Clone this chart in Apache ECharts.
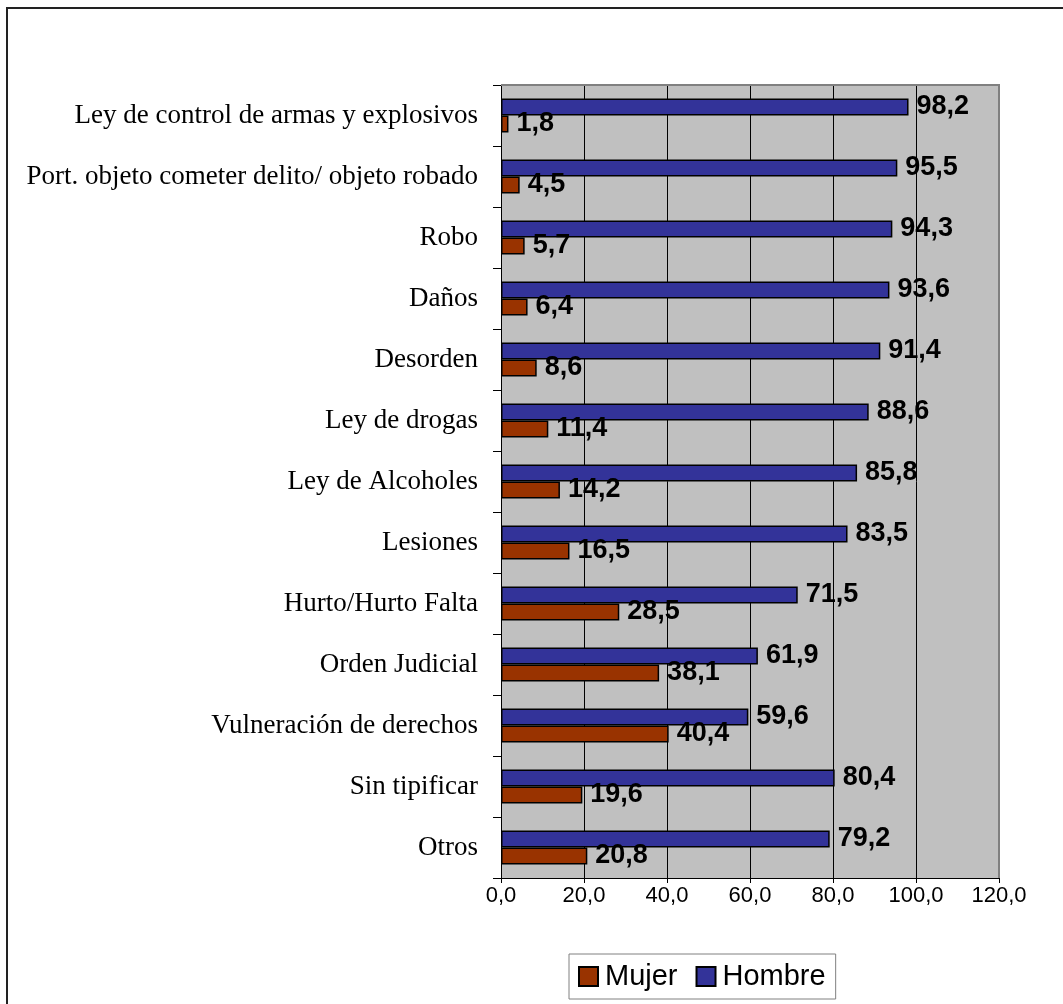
<!DOCTYPE html>
<html>
<head>
<meta charset="utf-8">
<script src="https://cdn.jsdelivr.net/npm/echarts@6/dist/echarts.min.js"></script>
<style>
  html, body { margin: 0; padding: 0; background: #fff; }
  #chart { width: 1063px; height: 1004px; }
</style>
</head>
<body>
<div id="chart"></div>
<script>
// Offence categories, listed from bottom to top of the chart
const categories = [
  'Otros',
  'Sin tipificar',
  'Vulneración de derechos',
  'Orden Judicial',
  'Hurto/Hurto Falta',
  'Lesiones',
  'Ley de Alcoholes',
  'Ley de drogas',
  'Desorden',
  'Daños',
  'Robo',
  'Port. objeto cometer delito/ objeto robado',
  'Ley de control de armas y explosivos'
];
// Percentages by sex, same order as categories
const mujer  = [20.8, 19.6, 40.4, 38.1, 28.5, 16.5, 14.2, 11.4, 8.6, 6.4, 5.7, 4.5, 1.8];
const hombre = [79.2, 80.4, 59.6, 61.9, 71.5, 83.5, 85.8, 88.6, 91.4, 93.6, 94.3, 95.5, 98.2];
const xTicks = [0, 20, 40, 60, 80, 100, 120];

const fmt = v => v.toFixed(1).replace('.', ',');

const chart = echarts.init(document.getElementById('chart'), null, { renderer: 'canvas' });

const valueLabel = {
  show: true,
  position: 'right',
  distance: 8,
  color: '#000',
  fontFamily: 'Liberation Sans, Arial, sans-serif',
  fontWeight: 'bold',
  fontSize: 27,
  formatter: p => fmt(p.value)
};

chart.setOption({
  animation: false,
  backgroundColor: '#fff',
  graphic: [
    {
      type: 'rect',
      shape: { x: 7, y: 8, width: 1070, height: 1010 },
      style: { fill: 'none', stroke: '#222', lineWidth: 2 },
      z: 0
    },
    // plot frame (top and right edges)
    {
      type: 'polyline',
      shape: { points: [[501, 85], [999, 85], [999, 878]] },
      style: { stroke: '#808080', lineWidth: 2, fill: 'none' },
      z: 1
    }
  ],
  legend: {
    bottom: 5,
    left: 569,
    data: ['Mujer', 'Hombre'],
    icon: 'rect',
    itemWidth: 19,
    itemHeight: 19,
    itemGap: 18,
    padding: [8, 10, 8, 9],
    borderColor: '#808080',
    borderWidth: 1,
    backgroundColor: '#fff',
    textStyle: {
      fontFamily: 'Liberation Sans, Arial, sans-serif',
      fontSize: 29,
      color: '#000',
      padding: [0, 0, 0, 2]
    }
  },
  grid: {
    left: 501,
    right: 64,
    top: 85,
    bottom: 126,
    show: true,
    backgroundColor: '#c0c0c0',
    borderWidth: 0
  },
  xAxis: {
    type: 'value',
    min: xTicks[0],
    max: xTicks[xTicks.length - 1],
    interval: 20,
    axisLine: { show: true, lineStyle: { color: '#000', width: 1 } },
    axisTick: { show: true, length: 5, lineStyle: { color: '#000' } },
    splitLine: { show: true, lineStyle: { color: '#000', width: 1 } },
    axisLabel: {
      margin: 7,
      color: '#000',
      fontFamily: 'Liberation Sans, Arial, sans-serif',
      fontSize: 22,
      formatter: v => fmt(v)
    }
  },
  yAxis: {
    type: 'category',
    data: categories,
    axisLine: { show: true, lineStyle: { color: '#000', width: 1 } },
    axisTick: { show: true, length: 8, lineStyle: { color: '#000' } },
    axisLabel: {
      margin: 23,
      color: '#000',
      fontFamily: 'Liberation Serif, Times New Roman, serif',
      fontSize: 27
    }
  },
  series: [
    {
      name: 'Hombre',
      type: 'bar',
      data: hombre,
      barWidth: 17,
      barGap: '0%',
      itemStyle: { color: '#333399', borderColor: '#000', borderWidth: 1.5 },
      label: valueLabel
    },
    {
      name: 'Mujer',
      type: 'bar',
      data: mujer,
      barWidth: 17,
      barGap: '0%',
      itemStyle: { color: '#993300', borderColor: '#000', borderWidth: 1.5 },
      label: valueLabel
    }
  ]
});
</script>
</body>
</html>
